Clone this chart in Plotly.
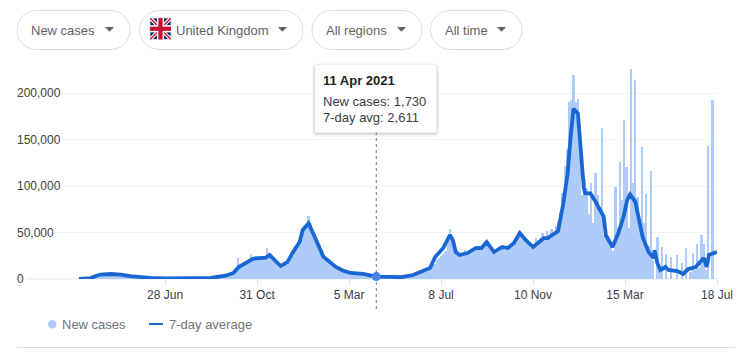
from datetime import date, timedelta
import plotly.graph_objects as go

START = date(2020, 3, 3)
avg_day = [0,9,16,23,29,43,57,70,84,97,118,138,179,199,210,217,226,237,254,259,274,283,291,300,304,312,321,332,349,359,369,386,404,438,454,477,484,495,504,508,512,517,528,539,547,554,564,575,583,591,599,607,617,624,632,637,651,658,664,668,672,678,682,686,688,695,702,709,713,716,725,733,740,745,749,756,760,766,774,781,782,786,790,797,801,813,821,828,838,849,853,856,867]
avg_values = [0,500,1000,3200,4800,5400,4800,3200,2100,1100,750,1000,1300,3500,6500,12900,16700,22000,23000,25800,14000,17900,29000,40000,52700,60000,44000,24000,13000,9000,6500,5400,2611,2100,4300,11800,23700,33300,47300,41900,29000,25800,27900,33300,33300,39800,29000,34400,33300,38700,49500,41900,34400,38700,44000,44000,51600,80600,113000,152000,183000,178000,135000,98000,92000,92000,83000,74000,67000,47000,34400,49500,67000,85000,91000,83000,67000,45000,29000,22500,31000,17000,9700,12900,9700,8600,5400,10700,12900,22600,12900,25800,29000]

# New cases in thousands, one reading every third day from START
new_cases_k = [
 0,.2,.4,.6,.9,1.1,1.8,2.6,3.4,4.6,5,5.4,5.5,5.6,5.2,5.3,5.6,5,4.8,5,4.5,4.2,
 3.8,3.5,3.2,3,2.7,2.5,2.2,2.1,1.8,1.5,1.3,1.1,1,.9,.8,.8,.7,.7,
 .8,.9,.9,1,1,1,1.1,1.1,1.2,1.2,1.2,1.3,1.3,1.4,1.5,1.6,1.7,1.9,2.2,2.5,2.8,3,3.2,3.4,3.6,4,4.4,
 3.8,4.2,5,6,7,23,14,16,16.5,17,18,27,21,22,23,23,23.5,23.5,33,26,24,20,18,16,14,14,14,15,17,21,25,
 36,37,39,42,55,58,68,60,52,48,41,37,31,27,23,21,19,17,15,13.5,13,12,10.5,9.5,8,6.5,6,6,5.5,5.5,5.5,5.5,5,4.5,3.5,3,1.73,2.5,
 2.6,2.5,2.4,2.2,2.2,2.1,2,2,2,2.1,2.2,2.3,2.6,3,3.5,4.2,
 4.8,5.5,6,6.5,7,8,9.5,11.5,13.5,16.5,20,22.5,25,27,30,43,54,46,38,28,27,26,27,31,29,31,30,34,36,35,33,37,36,41,38,31,27,29,32,34,33,31,33,36,38,40,43,47,50,46,44,43,38,33,34,44,42,44,50,46,52,47,54,50,57,62,
 72,92,122,140,190,193,219,190,194,160,90,108,98,70,103,60,114,90,75,162,47,43,42,35,30,
 99,55,126,85,171,120,55,226,103,214,88,60,142,60,91,35,116,20,0,45,10,34,0,
 27,0,24,0,0,26,0,17,0,33,0,8,28,10,38,12,47,38,10,143,0,192,0,1,
]
tick_dates = ["2020-06-28","2020-10-31","2021-03-05","2021-07-08","2021-11-10","2022-03-15","2022-07-18"]
tick_labels = ["28 Jun","31 Oct","5 Mar","8 Jul","10 Nov","15 Mar","18 Jul"]
y_ticks = [0, 50000, 100000, 150000, 200000]
hover_date, hover_new, hover_avg = "2021-04-11", 1730, 2611
chips = [("New cases",17,130,31,105),("United Kingdom",139.5,303,175.5,278),("All regions",312,422,326,397),("All time",430.5,522,445,497)]

W, H = 745, 360
X0, X1, Y0, Y1 = 26, 717, 279, 60
px = lambda x: x / W
py = lambda y: 1 - y / H
d = lambda n: (START + timedelta(days=n)).isoformat()
FONT = "Liberation Sans"

fig = go.Figure()
fig.add_bar(x=[d(3*i) for i in range(len(new_cases_k))], y=[v*1000 for v in new_cases_k],
            width=3*86400000, marker=dict(color="#aecbfa", line_width=0), showlegend=False, hoverinfo="skip")
fig.add_scatter(x=[d(n) for n in avg_day], y=avg_values, mode="lines",
                line=dict(color="#1967d2", width=3.8), showlegend=False, hoverinfo="skip", cliponaxis=False)
fig.add_scatter(x=[hover_date], y=[hover_avg], mode="markers", marker=dict(color="#4285f4", size=9),
                showlegend=False, hoverinfo="skip", cliponaxis=False)

shapes, ann = [], []
def P(points):
    return "M" + " L".join(f"{px(a):.5f},{py(b):.5f}" for a, b in points) + " Z"
def path(s, fill=None, line=None, lw=1):
    shapes.append(dict(type="path", xref="paper", yref="paper", path=s, fillcolor=fill or "rgba(0,0,0,0)",
                       line=dict(color=line or "rgba(0,0,0,0)", width=lw if line else 0), layer="above"))
def rect(x0, y0, x1, y1, fill=None, line=None, lw=1, dash=None):
    ln = dict(color=line or "rgba(0,0,0,0)", width=lw if line else 0)
    if dash: ln["dash"] = dash
    shapes.append(dict(type="rect", xref="paper", yref="paper", x0=px(x0), x1=px(x1), y0=py(y0), y1=py(y1),
                       fillcolor=fill or "rgba(0,0,0,0)", line=ln, layer="above"))
def pill(x0, y0, x1, y1, r, fill=None, line=None):
    k = .45 * r
    c = lambda a, b: f"{px(a):.5f},{py(b):.5f}"
    s = (f"M{c(x0+r,y0)} L{c(x1-r,y0)} C{c(x1-k,y0)} {c(x1,y0+k)} {c(x1,y0+r)} L{c(x1,y1-r)} C{c(x1,y1-k)} {c(x1-k,y1)} {c(x1-r,y1)} "
         f"L{c(x0+r,y1)} C{c(x0+k,y1)} {c(x0,y1-k)} {c(x0,y1-r)} L{c(x0,y0+r)} C{c(x0,y0+k)} {c(x0+k,y0)} {c(x0+r,y0)} Z")
    path(s, fill, line)
def text(x, y, t, size=13, color="#3c4043", bold=False, bg=None):
    a = dict(xref="paper", yref="paper", x=px(x-1), y=py(y), text=f"<b>{t}</b>" if bold else t, showarrow=False,
             xanchor="left", yanchor="middle", xshift=0, borderpad=0, align="left",
             font=dict(family=FONT, size=size, color=color))
    if bg: a["bgcolor"] = bg
    ann.append(a)

# Filter chips
for label, x0, x1, tx, ax in chips:
    pill(x0, 10.5, x1, 49.5, 19.5, "#ffffff", "#dadce0")
    text(tx, 30, label, 13, "#5f6368")
    path(P([(ax, 27), (ax+9, 27), (ax+4.5, 31.7)]), "#5f6368")

# Union flag
fx0, fy0, fx1, fy1 = 150, 18, 171, 39.5
pill(fx0, fy0, fx1, fy1, 2, "#012169", "#dadce0")
for (a, b, c, e), col, t in [((fx0, fy0, fx1, fy1), "#ffffff", 2.6), ((fx0, fy1, fx1, fy0), "#ffffff", 2.6),
                             ((fx0, fy0, fx1, fy1), "#c8102e", 1.0), ((fx0, fy1, fx1, fy0), "#c8102e", 1.0)]:
    path(P([(a, b+t if b < e else b-t), (a, b), (a+t, b), (c, e-t if b < e else e+t), (c, e), (c-t, e)]), col)
mx, my = (fx0+fx1)/2, (fy0+fy1)/2
rect(mx-3.6, fy0, mx+3.6, fy1, "#ffffff"); rect(fx0, my-3.6, fx1, my+3.6, "#ffffff")
rect(mx-2.1, fy0, mx+2.1, fy1, "#c8102e"); rect(fx0, my-2.1, fx1, my+2.1, "#c8102e")

# Cursor and tooltip
shapes.append(dict(type="line", xref="x", yref="paper", x0=hover_date, x1=hover_date, y0=py(132), y1=py(309),
                   line=dict(color="#70757a", width=1, dash="dot"), layer="above"))
for g, a in [(3, .04), (2, .06), (1, .09)]:
    pill(315-g, 65-g+1, 436.5+g, 132.5+g+1, 2+g, f"rgba(60,64,67,{a})")
rect(315, 65, 436.5, 132.5, "#ffffff")
text(323, 81, "11 Apr 2021", 13, "#202124", bold=True)
text(323, 101, f"New cases: {hover_new:,}", 13, "#3c4043")
text(323, 118, f"7-day avg: {hover_avg:,}", 13, "#3c4043")

# Value labels sit left aligned over the grid
for v in y_ticks:
    ann.append(dict(xref="paper", yref="y", x=px(16), y=v, text=f"{v:,}", showarrow=False, xanchor="left", yanchor="middle",
                    bgcolor="#ffffff", borderpad=0, font=dict(family=FONT, size=12, color="#3c4043")))

# Legend and rule
shapes.append(dict(type="circle", xref="paper", yref="paper", x0=px(48), x1=px(56.5), y0=py(320), y1=py(328.5),
                   fillcolor="#aecbfa", line_width=0, layer="above"))
rect(149, 323, 163, 325, "#1967d2")
text(62, 324.5, "New cases", 13, "#70757a")
text(168.5, 324.5, "7-day average", 13, "#70757a")
rect(17, 347, 735, 348, "#dadce0")

x_start = START + timedelta(days=(X0 - 78.4) / 0.736)
x_end = START + timedelta(days=(X1 - 78.4) / 0.736)
fig.update_layout(
    width=W, height=H, margin=dict(l=0, r=0, t=0, b=0, autoexpand=False), paper_bgcolor="#ffffff", plot_bgcolor="#ffffff",
    bargap=0, showlegend=False, shapes=shapes, annotations=ann,
    font=dict(family=FONT, size=13, color="#3c4043"),
    xaxis=dict(domain=[px(X0), px(X1)], type="date", range=[x_start.isoformat(), x_end.isoformat()], automargin=False,
               tickmode="array", tickvals=tick_dates, ticktext=tick_labels, ticks="outside", ticklen=5, tickcolor="#dadce0",
               tickfont=dict(family=FONT, size=12, color="#3c4043"), showgrid=False, zeroline=False, showline=False),
    yaxis=dict(domain=[py(Y0), py(Y1)], range=[0, (Y0-Y1)*200000/186], tickmode="array", tickvals=y_ticks, automargin=False,
               showticklabels=False, gridcolor="#f1f3f4", gridwidth=1, zeroline=True, zerolinecolor="#f1f3f4", zerolinewidth=1.5, showline=False),
)
fig.write_html("out.html", config={"displayModeBar": False},
               post_script="document.body.style.margin='0';document.documentElement.style.overflow='hidden';")
